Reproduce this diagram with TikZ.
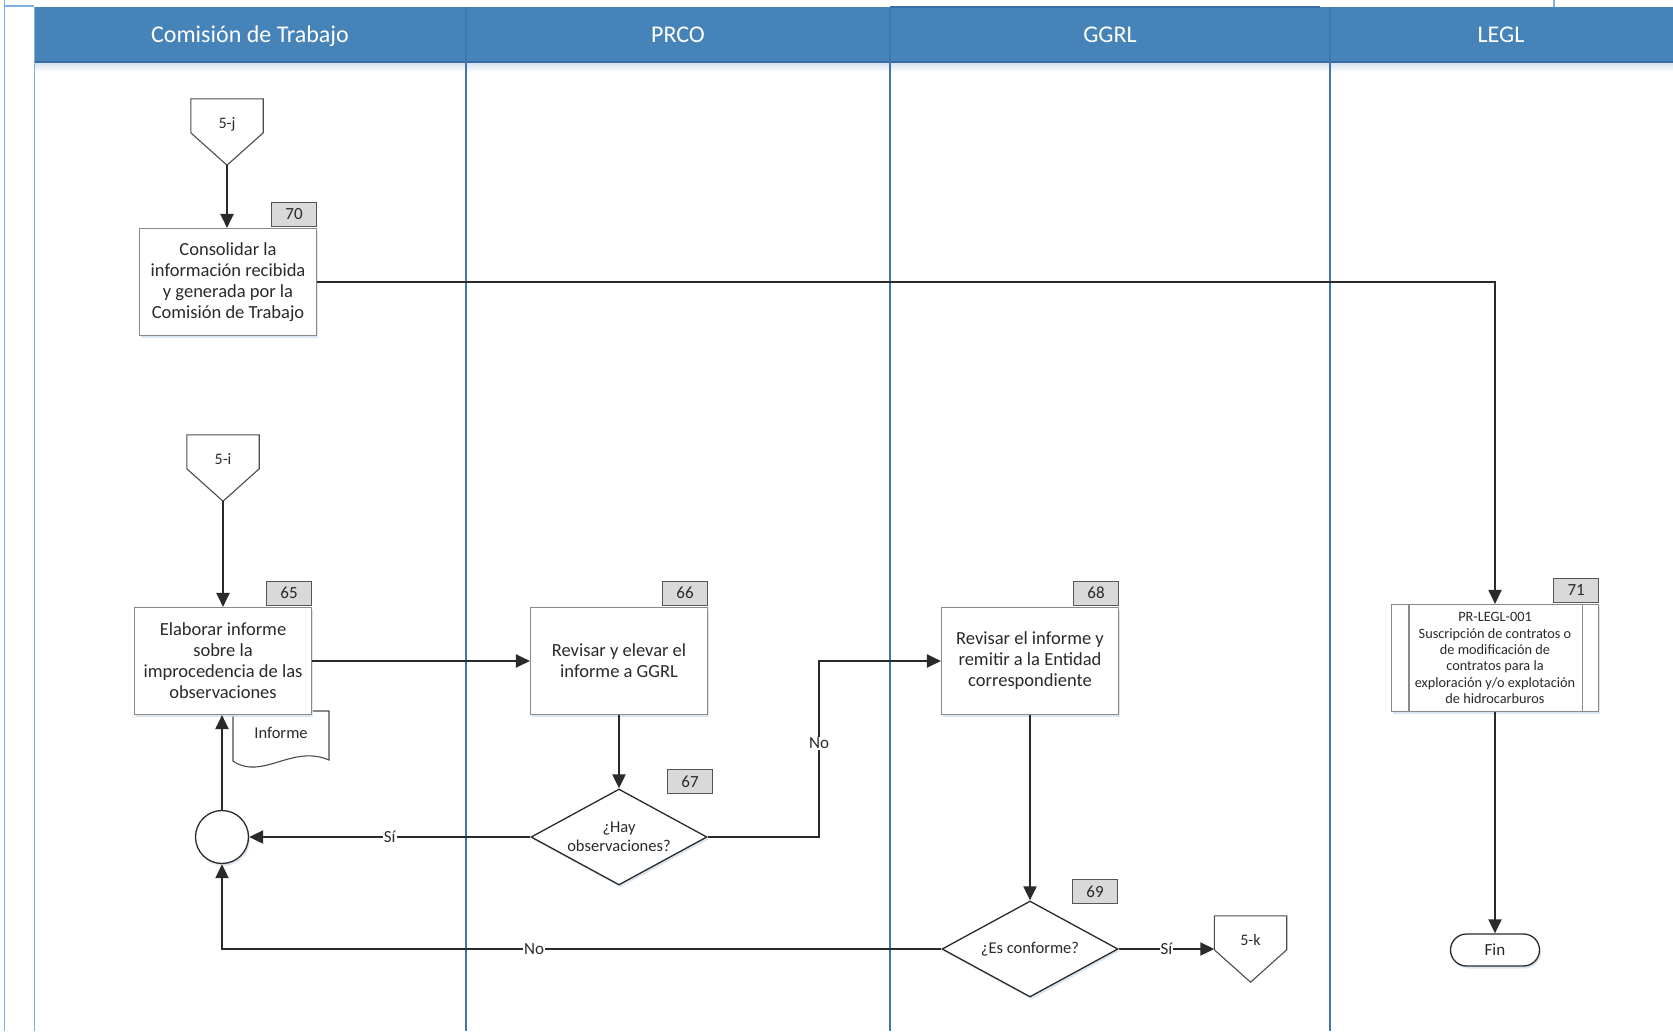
\documentclass[tikz,border=0pt]{standalone}
\usepackage{fontspec}
\setmainfont{Carlito}
\usetikzlibrary{arrows.meta,shapes.geometric,calc,shadows}

\definecolor{hdrblue}{HTML}{4683B8}
\definecolor{hdrdark}{HTML}{3A6EA2}
\definecolor{laneline}{HTML}{3E78B2}
\definecolor{framelt}{HTML}{7DB0E0}
\definecolor{tabgray}{HTML}{D9D9D9}
\definecolor{boxline}{HTML}{8A8A8A}
\definecolor{ink}{HTML}{2A2A2A}
\definecolor{shade}{HTML}{D3E0EE}

% off-page connector: pentagon drawn around a named rectangular node
\newcommand\offpagecon[3]{%
  \node[offpg] (#1) at (#2) {#3};
  \draw[offline] (#1.north west) -- (#1.north east)
    -- ($(#1.north east)+(0,34)$) -- (#1.south)
    -- ($(#1.north west)+(0,34)$) -- cycle;}

\begin{document}
\begin{tikzpicture}[x=1pt,y=-1pt,
  txt/.style={font=\fontsize{18.5}{21}\selectfont, text=ink, align=center},
  task/.style={draw=boxline, line width=1.1pt, fill=white,
    minimum width=177pt, minimum height=107pt, inner sep=2pt, txt,
    drop shadow={shadow xshift=1.5pt, shadow yshift=-2.5pt, fill=shade, opacity=0.8}},
  tabbox/.style={draw=ink!80, line width=0.9pt, fill=tabgray,
    minimum width=45pt, minimum height=24pt, inner sep=0pt,
    font=\fontsize{17}{19}\selectfont, text=ink},
  decision/.style={diamond, aspect=1.83, draw=ink, line width=1.3pt, fill=white,
    minimum width=176pt, minimum height=96pt, inner sep=0pt,
    font=\fontsize{16.5}{19}\selectfont, text=ink, align=center,
    drop shadow={shadow xshift=1.5pt, shadow yshift=-2.5pt, fill=shade, opacity=0.8}},
  offpg/.style={minimum width=72pt, minimum height=66pt, inner ysep=6pt,
    text height=23pt, text depth=31pt, inner xsep=0pt,
    font=\fontsize{16}{18}\selectfont, text=ink},
  offline/.style={draw=ink!85, line width=1.1pt},
  flow/.style={draw=ink, line width=2pt, -{Triangle[length=14pt,width=13pt]}},
  lbl/.style={fill=white, inner sep=1pt, font=\fontsize{17}{19}\selectfont, text=ink},
  lanetitle/.style={text=white, font=\fontsize{24}{26}\selectfont, anchor=base},
]
\useasboundingbox (0,0) rectangle (1673,1031);

% outer frame fragments
\draw[framelt, line width=1.3pt] (4.5,0) -- (4.5,1031);
\draw[framelt, line width=1.1pt] (4.5,6) -- (34,6);
\draw[framelt, line width=1.1pt] (1554,0) -- (1554,7);

% header band
\fill[hdrblue] (34,7) rectangle (1673,62);
\shade[top color=shade, bottom color=white] (34,62) rectangle (1673,72);
\draw[hdrdark, line width=1.6pt] (34,62) -- (1673,62);
\draw[hdrdark, line width=1.4pt] (890,7) -- (1320,7);

% lane borders
\draw[framelt, line width=1.5pt] (34.5,7) -- (34.5,1031);
\foreach \lx in {466,890,1330}
  \draw[laneline, line width=1.3pt] (\lx,7) -- (\lx,1031);

\node[lanetitle] (h1) at (250,42.5) {Comisión de Trabajo};
\node[lanetitle] (h2) at (678,42.5) {PRCO};
\node[lanetitle] (h3) at (1110,42.5) {GGRL};
\node[lanetitle] (h4) at (1501,42.5) {LEGL};

% Comisión de Trabajo
\offpagecon{j}{227,132}{5-j}
\node[task] (b70) at (228,282) {Consolidar la\\información recibida\\y generada por la\\Comisión de Trabajo};
\node[tabbox, anchor=south east] (t70) at ([yshift=1.5pt]b70.north east) {70};

\offpagecon{i}{223,468}{5-i}
% document symbol behind the task box
\draw[draw=ink!85, line width=1.1pt, fill=white]
  (233,711) -- (329,711) -- (329,760)
  .. controls (292,744) and (262,781) .. (233,761) -- cycle;
\node[font=\fontsize{16.5}{18}\selectfont, text=ink] (doc) at (281,733) {Informe};
\node[task] (b65) at (223,661) {Elaborar informe\\sobre la\\improcedencia de las\\observaciones};
\node[tabbox, anchor=south east] (t65) at ([yshift=1.5pt]b65.north east) {65};

\node[circle, draw=ink, line width=1.3pt, fill=white, minimum size=53pt, inner sep=0pt,
  drop shadow={shadow xshift=1.5pt, shadow yshift=-2.5pt, fill=shade, opacity=0.8}] (circ) at (222,837) {};

% PRCO
\node[task] (b66) at (619,661) {Revisar y elevar el\\informe a GGRL};
\node[tabbox, anchor=south east] (t66) at ([yshift=1.5pt]b66.north east) {66};
\node[decision] (d67) at (619,837) {¿Hay\\observaciones?};
\node[tabbox, anchor=south east] (t67) at (713,794) {67};

% GGRL
\node[task] (b68) at (1030,661) {Revisar el informe y\\remitir a la Entidad\\correspondiente};
\node[tabbox, anchor=south east] (t68) at ([yshift=1.5pt]b68.north east) {68};
\node[decision] (d69) at (1030,949) {¿Es conforme?};
\node[tabbox, anchor=south east] (t69) at (1118,904) {69};
\offpagecon{k}{1250.5,949}{5-k}

% LEGL
\node[task, minimum width=207pt, font=\fontsize{14.3}{16.3}\selectfont] (b71) at (1495,658)
  {PR-LEGL-001\\Suscripción de contratos o\\de modificación de\\contratos para la\\exploración y/o explotación\\de hidrocarburos};
\draw[draw=boxline, line width=1.1pt] ($(b71.north west)+(18,0)$) -- ($(b71.south west)+(18,0)$);
\draw[draw=boxline, line width=1.1pt] ($(b71.north east)+(-17,0)$) -- ($(b71.south east)+(-17,0)$);
\node[tabbox, anchor=south east] (t71) at ([yshift=1.5pt]b71.north east) {71};
\node[draw=ink, line width=1.3pt, fill=white, rounded corners=16pt,
  minimum width=89pt, minimum height=32pt, inner sep=0pt,
  font=\fontsize{17}{19}\selectfont, text=ink,
  drop shadow={shadow xshift=1.5pt, shadow yshift=-2.5pt, fill=shade, opacity=0.8}] (fin) at (1495,950) {Fin};

% connectors
\coordinate (n67) at (819,661);
\draw[flow] (j.south) -- (j.south |- b70.north);
\draw[flow] (b70.east) -| (b71.north);
\draw[flow] (i.south) -- (i.south |- b65.north);
\draw[flow] (b65.east) -- (b66.west);
\draw[flow] (b66.south) -- (d67.north);
\draw[flow] (d67.west) -- node[lbl]{Sí} (circ.east);
\draw[flow] (d67.east) -| node[lbl, pos=0.767]{No} (n67) -- (b68.west);
\draw[flow] (b68.south) -- (d69.north);
\draw[flow] (d69.east) -- node[lbl]{Sí} (k.west);
\draw[flow] (d69.west) -| node[lbl, pos=0.283]{No} (circ.south);
\draw[flow] (circ.north) -- (circ.north |- b65.south);
\draw[flow] (b71.south) -- (fin.north);
\end{tikzpicture}
\end{document}
